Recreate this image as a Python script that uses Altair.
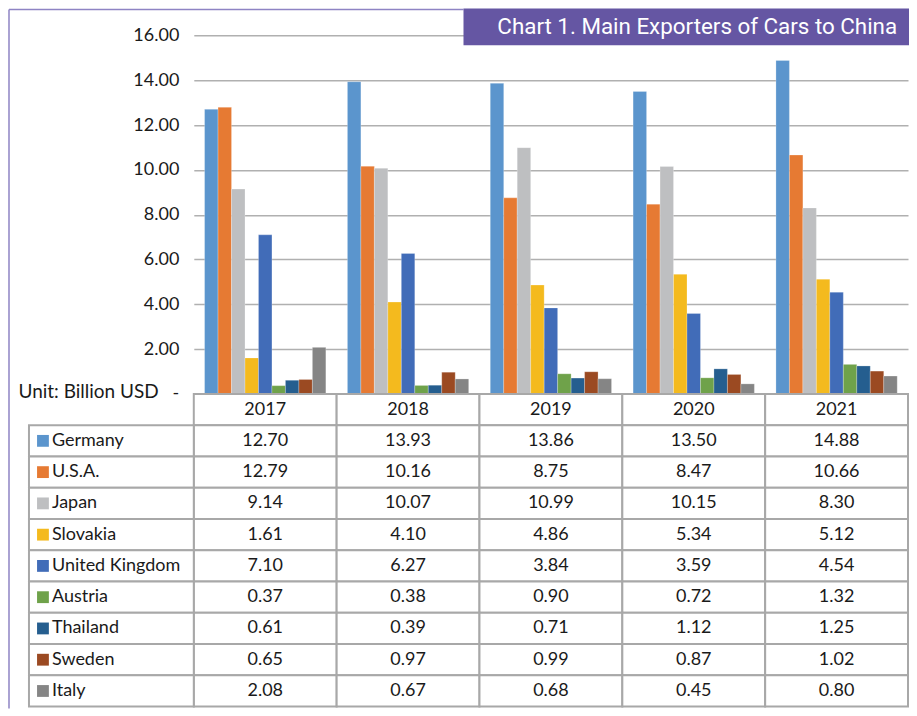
import altair as alt
import pandas as pd

years = ["2017", "2018", "2019", "2020", "2021"]
countries = ["Germany", "U.S.A.", "Japan", "Slovakia", "United Kingdom",
             "Austria", "Thailand", "Sweden", "Italy"]
germany = [12.70, 13.93, 13.86, 13.50, 14.88]
usa = [12.79, 10.16, 8.75, 8.47, 10.66]
japan = [9.14, 10.07, 10.99, 10.15, 8.30]
slovakia = [1.61, 4.10, 4.86, 5.34, 5.12]
uk = [7.10, 6.27, 3.84, 3.59, 4.54]
austria = [0.37, 0.38, 0.90, 0.72, 1.32]
thailand = [0.61, 0.39, 0.71, 1.12, 1.25]
sweden = [0.65, 0.97, 0.99, 0.87, 1.02]
italy = [2.08, 0.67, 0.68, 0.45, 0.80]
colors = ["#5b95cd", "#e67a33", "#bebfc1", "#f4ba1e", "#416cb8",
          "#6fa24a", "#255e8f", "#9b4a22", "#858585"]
title = "Chart 1. Main Exporters of Cars to China"
unit = "Unit: Billion USD"
y_ticks = [0, 2, 4, 6, 8, 10, 12, 14, 16]

series = [germany, usa, japan, slovakia, uk, austria, thailand, sweden, italy]
rows = []
for c, vals in zip(countries, series):
    for y, v in zip(years, vals):
        rows.append({"country": c, "year": y, "value": v, "row": c, "label": f"{v:.2f}"})
df = pd.DataFrame(rows)

header_row = " "
table_rows = [header_row] + countries
hdr = pd.DataFrame({"year": years, "row": header_row, "label": years})
cells = pd.concat([hdr, df[["year", "row", "label"]]], ignore_index=True)
labels_df = pd.DataFrame({"row": countries, "country": countries})

FONT = "Lato"
GRID = "#b0b0b0"
BORDER = "#a8a8a8"
FRAME = "#8e84c4"
PURPLE = "#6556a3"
TXT = "#1a1a1a"

x_scale = alt.Scale(domain=years, paddingInner=0, paddingOuter=0)
color_scale = alt.Scale(domain=countries, range=colors)

W = 715
H_TOP = 359
H_TAB = 313

bars = alt.Chart(df).mark_bar(stroke="white", strokeWidth=0.4, strokeOpacity=0.6).encode(
    x=alt.X("year:N", sort=years, scale=x_scale, axis=None),
    xOffset=alt.XOffset("country:N", sort=countries,
                        scale=alt.Scale(domain=countries, paddingInner=0, paddingOuter=0.8)),
    y=alt.Y("value:Q", scale=alt.Scale(domain=[0, 16], nice=False),
            axis=alt.Axis(values=y_ticks,
                          labelExpr="datum.value == 0 ? '-' : format(datum.value, '.2f')",
                          grid=True, gridColor=GRID, gridWidth=1.5, domain=False, ticks=False,
                          tickSize=0, labelAlign="right",
                          labelPadding=15, labelFontSize=18, labelFont=FONT, labelColor=TXT,
                          title=unit, titleAngle=0, titleX=-176, titleY=H_TOP - 2,
                          titleAlign="left", titleBaseline="middle", titleFontWeight="normal",
                          titleFontSize=19, titleFont=FONT, titleColor=TXT)),
    color=alt.Color("country:N", scale=color_scale, legend=None),
)

one = pd.DataFrame({"t": [title]})
title_box = alt.Chart(one).mark_rect(color=PURPLE).encode(
    x=alt.value(270), x2=alt.value(716), y=alt.value(-27), y2=alt.value(10))
title_text = alt.Chart(one).mark_text(color="white", font="Roboto", fontSize=22.4,
                                      align="center", baseline="middle").encode(
    x=alt.value(504), y=alt.value(-8), text="t:N")
frame_left_top = alt.Chart(one).mark_rule(color=FRAME, strokeWidth=1.5).encode(
    x=alt.value(-185), y=alt.value(-26), y2=alt.value(H_TOP))
frame_top = alt.Chart(one).mark_rule(color=FRAME, strokeWidth=1.5).encode(
    x=alt.value(-185), x2=alt.value(270), y=alt.value(-26))

top = alt.layer(frame_left_top, frame_top, bars, title_box, title_text).properties(
    width=W, height=H_TOP)

y_tab = alt.Y("row:N", sort=table_rows,
              scale=alt.Scale(domain=table_rows, paddingInner=0, paddingOuter=0), axis=None)
x_tab = alt.X("year:N", sort=years, scale=x_scale, axis=None)

cell_rects = alt.Chart(cells).mark_rect(fill="white", stroke=BORDER, strokeWidth=2).encode(
    x=x_tab, y=y_tab)
cell_text = alt.Chart(cells).mark_text(font=FONT, fontSize=18, color=TXT,
                                       baseline="middle").encode(
    x=x_tab, y=y_tab, text="label:N")
label_rects = alt.Chart(labels_df).mark_rect(fill="white", stroke=BORDER, strokeWidth=2).encode(
    x=alt.value(-165), x2=alt.value(0), y=y_tab)
label_sq = alt.Chart(labels_df).mark_square(size=140, opacity=1, filled=True).encode(
    x=alt.value(-151), y=y_tab,
    color=alt.Color("country:N", scale=color_scale, legend=None))
label_text = alt.Chart(labels_df).mark_text(font=FONT, fontSize=18, color=TXT,
                                            align="left", baseline="middle").encode(
    x=alt.value(-142), y=y_tab, text="country:N")
frame_left_bot = alt.Chart(one).mark_rule(color=FRAME, strokeWidth=1.5).encode(
    x=alt.value(-185), y=alt.value(0), y2=alt.value(H_TAB + 2))

table = alt.layer(frame_left_bot, cell_rects, cell_text, label_rects, label_sq, label_text).properties(
    width=W, height=H_TAB)

chart = alt.vconcat(top, table, spacing=0, bounds="flush").properties(
    padding=0
).configure_view(stroke=None).resolve_scale(color="shared")

chart.save("out.html", embed_options={"renderer": "svg", "actions": False})
